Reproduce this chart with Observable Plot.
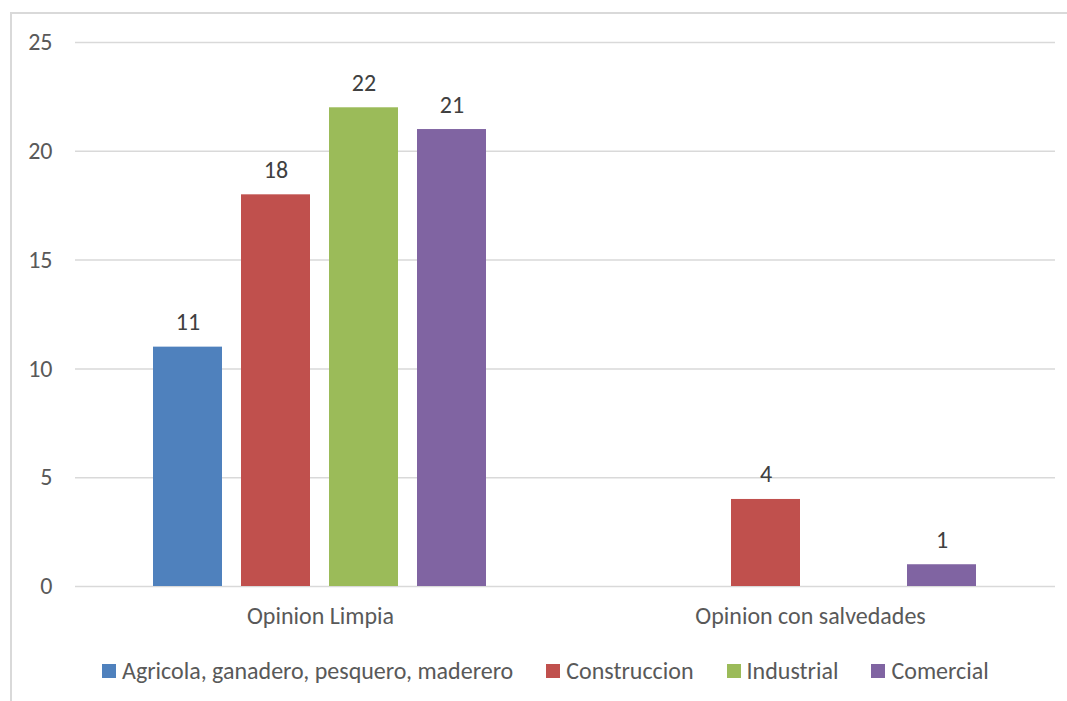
<!DOCTYPE html>
<html>
<head>
<meta charset="utf-8">
<script src="https://cdn.jsdelivr.net/npm/d3@7"></script>
<script src="https://cdn.jsdelivr.net/npm/@observablehq/plot@0.6"></script>
<style>
  html, body { margin: 0; padding: 0; background: #fff; overflow: hidden; }
  body { width: 1067px; height: 701px; position: relative; font-family: Carlito, Calibri, Lato, sans-serif; }
  #frame { position: absolute; left: 10px; top: 12px; width: 2000px; height: 2000px; border: 2px solid #d9d9d9; box-sizing: border-box; }
  #chart { position: absolute; left: 0; top: 0; }
  #legend { position: absolute; left: 102px; top: 656px; display: flex; align-items: center; gap: 33px; font-size: 24px; color: #595959; white-space: nowrap; }
  .item { display: flex; align-items: center; gap: 6px; }
  .sw { width: 14px; height: 14px; display: inline-block; }
</style>
</head>
<body>
<div id="frame"></div>
<div id="chart"></div>
<div id="legend"></div>
<script>
// Audit opinion types and economic sectors
const groups = ["Opinion Limpia", "Opinion con salvedades"];
const sectors = ["Agricola, ganadero, pesquero, maderero", "Construccion", "Industrial", "Comercial"];
const colors = ["#4f81bd", "#c0504d", "#9bbb59", "#8064a2"];

// Counts per sector (null = no companies in that group)
const limpia = [11, 18, 22, 21];
const salvedades = [null, 4, null, 1];

const yTicks = [0, 5, 10, 15, 20, 25];

const rows = [];
[limpia, salvedades].forEach((vals, gi) => {
  vals.forEach((v, si) => {
    if (v != null) rows.push({group: groups[gi], sector: sectors[si], value: v});
  });
});

const fontFamily = "Carlito, Calibri, Lato, sans-serif";

const chart = Plot.plot({
  width: 1067,
  height: 640,
  marginLeft: 75,
  marginRight: 12,
  marginTop: 42,
  marginBottom: 54,
  style: {fontFamily, fontSize: "24px", color: "#595959", background: "transparent"},
  fx: {domain: groups, padding: 0, label: null},
  x: {domain: sectors, paddingInner: 0.213, paddingOuter: 0.86, axis: null},
  y: {domain: [0, 25], label: null},
  color: {domain: sectors, range: colors},
  marks: [
    Plot.gridY(yTicks, {stroke: "#d9d9d9", strokeOpacity: 1, strokeWidth: 1.5}),
    Plot.axisY(yTicks, {tickSize: 0, tickPadding: 23, label: null, fill: "#595959", fontSize: 24}),
    Plot.axisFx({anchor: "bottom", tickSize: 0, tickPadding: 20, label: null, fill: "#595959", fontSize: 24}),
    Plot.barY(rows, {fx: "group", x: "sector", y: "value", fill: "sector"}),
    Plot.text(rows, {fx: "group", x: "sector", y: "value", text: d => String(d.value), lineAnchor: "bottom", dy: -17, fill: "#404040", fontSize: 24})
  ]
});
document.getElementById("chart").appendChild(chart);

// Legend below the plot
const legend = document.getElementById("legend");
sectors.forEach((s, i) => {
  const item = document.createElement("div");
  item.className = "item";
  const sw = document.createElement("span");
  sw.className = "sw";
  sw.style.background = colors[i];
  const label = document.createElement("span");
  label.textContent = s;
  item.appendChild(sw);
  item.appendChild(label);
  legend.appendChild(item);
});
</script>
</body>
</html>
